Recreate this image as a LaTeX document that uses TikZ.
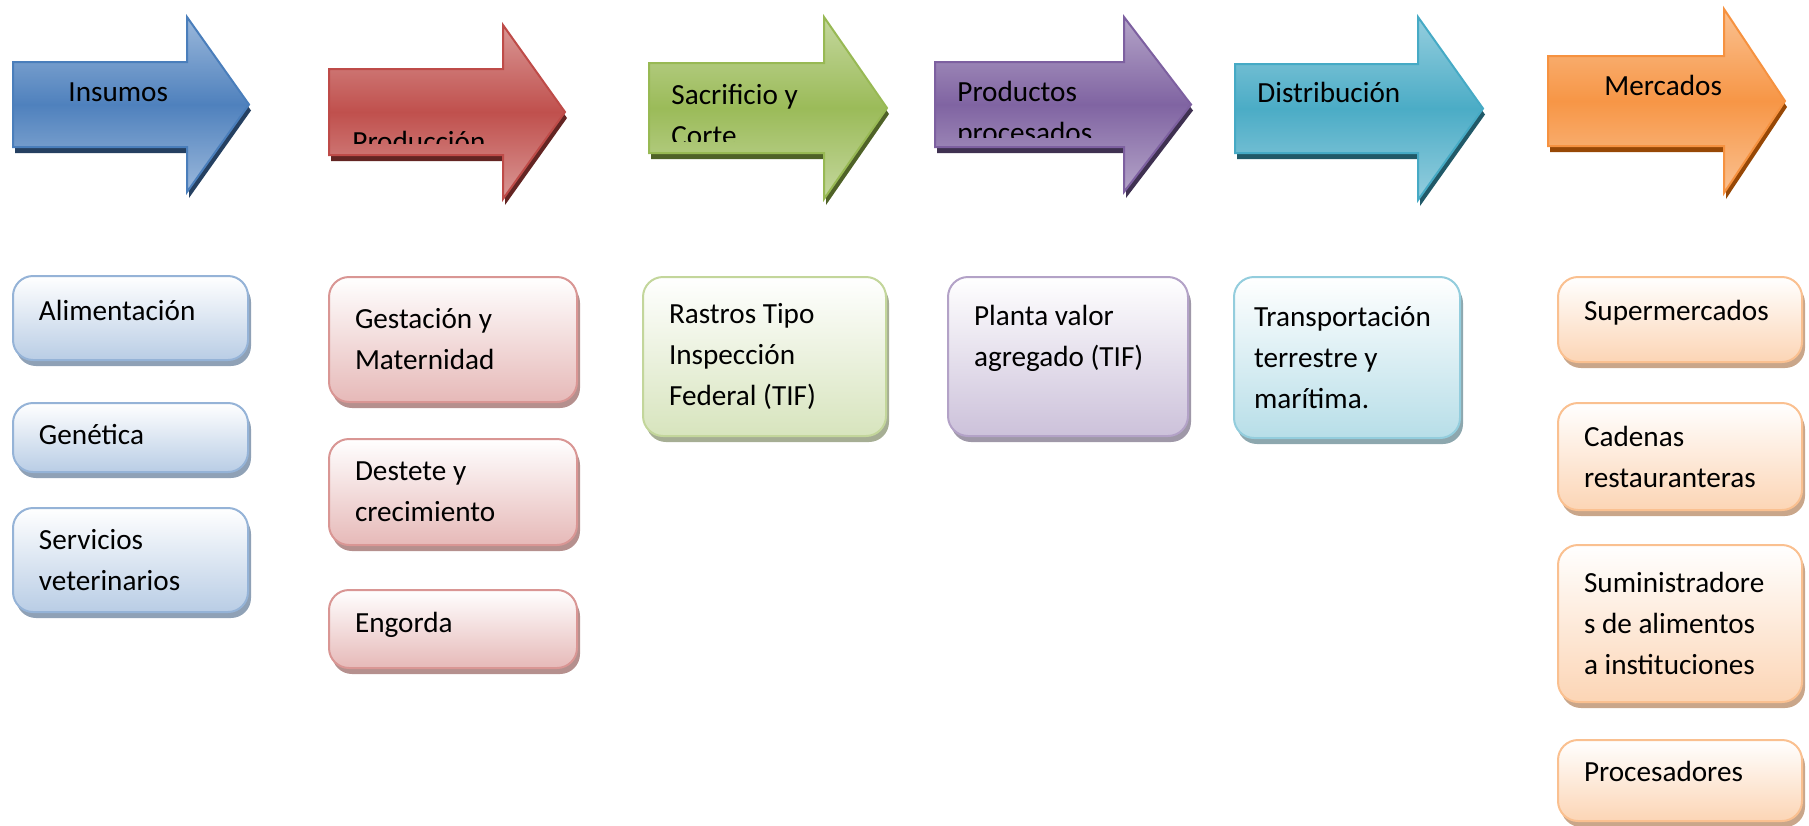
\documentclass[tikz,border=0pt]{standalone}
\usepackage{fontspec}
\setmainfont{Carlito}
\usetikzlibrary{shadows}

% Office-like palette: M middle, L light, E edge, D dark shadow (arrows)
% B border, F fill, S shadow (boxes)
\definecolor{blueM}{HTML}{4F81BD}\definecolor{blueL}{HTML}{9BB8DB}
\definecolor{blueE}{HTML}{4A7EBB}\definecolor{blueD}{HTML}{254061}
\definecolor{blueB}{HTML}{95B3D7}\definecolor{blueF}{HTML}{B9CDE5}
\definecolor{blueS}{HTML}{8FA1B6}
\definecolor{redM}{HTML}{C0504D}\definecolor{redL}{HTML}{D99795}
\definecolor{redE}{HTML}{BE4B48}\definecolor{redD}{HTML}{632523}
\definecolor{redB}{HTML}{D99694}\definecolor{redF}{HTML}{E6B9B8}
\definecolor{redS}{HTML}{B5908E}
\definecolor{greenM}{HTML}{9BBB59}\definecolor{greenL}{HTML}{C4D79D}
\definecolor{greenE}{HTML}{98B954}\definecolor{greenD}{HTML}{4F6228}
\definecolor{greenB}{HTML}{C3D69B}\definecolor{greenF}{HTML}{D7E4BD}
\definecolor{greenS}{HTML}{A6AE94}
\definecolor{purpleM}{HTML}{8064A2}\definecolor{purpleL}{HTML}{B4A4C8}
\definecolor{purpleE}{HTML}{7D60A0}\definecolor{purpleD}{HTML}{3F3151}
\definecolor{purpleB}{HTML}{B3A2C7}\definecolor{purpleF}{HTML}{CCC1DA}
\definecolor{purpleS}{HTML}{9F98A8}
\definecolor{aquaM}{HTML}{4BACC6}\definecolor{aquaL}{HTML}{95CEDE}
\definecolor{aquaE}{HTML}{46AAC5}\definecolor{aquaD}{HTML}{215968}
\definecolor{aquaB}{HTML}{93CDDD}\definecolor{aquaF}{HTML}{B7DEE8}
\definecolor{aquaS}{HTML}{8DA7AE}
\definecolor{orangeM}{HTML}{F79646}\definecolor{orangeL}{HTML}{FAC191}
\definecolor{orangeE}{HTML}{F69240}\definecolor{orangeD}{HTML}{974806}
\definecolor{orangeB}{HTML}{FAC090}\definecolor{orangeF}{HTML}{FCD5B5}
\definecolor{orangeS}{HTML}{C9A68A}

% block arrow: left, top, bottom, head x, head top, tip x
\newcommand\stagepath[6]{(#1,#2) -- (#4,#2) -- (#4,#5) -- (#6,{(#2+#3)/2})
  -- (#4,{#2+#3-#5}) -- (#4,#3) -- (#1,#3) -- cycle}

\begin{document}
\begin{tikzpicture}[%
    x=0.5pt, y=-0.5pt,          % one unit is one pixel, y going down
    every node/.style={font=\fontsize{14.6pt}{20.5pt}\selectfont, inner sep=0pt},
    ]
% -------------------------------------------------
% Styles for the chain arrows and the boxes below them
\tikzset{
  stage/.style={line width=1pt, draw=#1E, top color=#1L, bottom color=#1L, middle color=#1M},
  stageshadow/.style={fill=#1D, shift={(2,6)}},
  label/.style={anchor=base west, align=flush left, text width=110pt},
  box/.style={rounded corners=10pt, line width=1pt, align=flush left,
    inner xsep=13pt, inner ysep=0pt, top color=white},
  item/.style={box, draw=#1B, bottom color=#1F,
    drop shadow={shadow xshift=1.5pt, shadow yshift=-3pt, fill=#1S, opacity=1}},
  % one line of text sits near the top, as in the word processor
  oneline/.style={text height=10.5pt, text depth=#1},
}
\useasboundingbox (0,0) rectangle (1809,825);
% -------------------------------------------------
% Arrows of the chain
\fill[stageshadow=blue] \stagepath{13}{62}{147}{187}{17}{249};
\draw[stage=blue] \stagepath{13}{62}{147}{187}{17}{249};
\fill[stageshadow=red] \stagepath{329}{69}{155}{503}{25}{565};
\draw[stage=red] \stagepath{329}{69}{155}{503}{25}{565};
\fill[stageshadow=green] \stagepath{649}{63}{153}{824}{17}{887};
\draw[stage=green] \stagepath{649}{63}{153}{824}{17}{887};
\fill[stageshadow=purple] \stagepath{935}{62}{147}{1124}{17}{1191};
\draw[stage=purple] \stagepath{935}{62}{147}{1124}{17}{1191};
\fill[stageshadow=aqua] \stagepath{1235}{64}{153}{1418}{17}{1483};
\draw[stage=aqua] \stagepath{1235}{64}{153}{1418}{17}{1483};
\fill[stageshadow=orange] \stagepath{1548}{56}{146}{1724}{9}{1785};
\draw[stage=orange] \stagepath{1548}{56}{146}{1724}{9}{1785};

% Arrow texts (cut off at the foot of the shaft, as printed)
\node[label] (insumos) at (68,101) {Insumos};
\begin{scope}
  \clip (329,69) rectangle (503,143);
  \node[label] (produccion) at (352,151) {Producción};
\end{scope}
\begin{scope}
  \clip (649,63) rectangle (824,141);
  \node[label] (sacrificio) at (671,104) {Sacrificio y\\Corte};
\end{scope}
\begin{scope}
  \clip (935,62) rectangle (1124,137);
  \node[label] (productos) at (957,101) {Productos\\procesados};
\end{scope}
\node[label] (distribucion) at (1257,102) {Distribución};
\node[label] (mercados) at (1604,95) {Mercados};

% -------------------------------------------------
% Boxes under each arrow
\node[item=blue, oneline=8.5pt, text width=91.5pt, minimum height=42pt] (alim) at (130.5,318) {Alimentación};
\node[item=blue, oneline=4pt, text width=91.5pt, minimum height=34.5pt] (genet) at (130.5,437.5) {Genética};
\node[item=blue, text width=91.5pt, minimum height=52pt] (serv) at (130.5,560) {Servicios\\veterinarios};

\node[item=red, text width=98pt, minimum height=62.5pt] (gest) at (453,339.5) {Gestación y\\Maternidad};
\node[item=red, text width=98pt, minimum height=53pt] (dest) at (453,492) {Destete y\\crecimiento};
\node[item=red, oneline=7.5pt, text width=98pt, minimum height=39pt] (engo) at (453,629) {Engorda};

\node[item=green, text width=95.5pt, minimum height=79.5pt] (rastros) at (764.5,356.5) {Rastros Tipo\\Inspección\\Federal (TIF)};

\node[item=purple, text width=94pt, minimum height=79.5pt] (planta) at (1068,356.5) {Planta valor\\agregado (TIF)\\\mbox{}};

\node[item=aqua, inner xsep=10pt, text width=93pt, minimum height=80.5pt] (transp) at (1347,357.5) {Transportación\\terrestre y\\marítima.};

\node[item=orange, oneline=10pt, text width=96pt, minimum height=42.5pt] (super) at (1680,319.5) {Supermercados};
\node[item=orange, text width=96pt, minimum height=53.5pt] (cadenas) at (1680,456.5) {Cadenas\\restauranteras};
\node[item=orange, text width=96pt, minimum height=78.5pt] (sumin) at (1680,623.5) {Suministradore\\s de alimentos\\a instituciones};
\node[item=orange, oneline=10pt, text width=96pt, minimum height=40.5pt] (proc) at (1680,780.5) {Procesadores};
% -------------------------------------------------
\end{tikzpicture}
\end{document}
